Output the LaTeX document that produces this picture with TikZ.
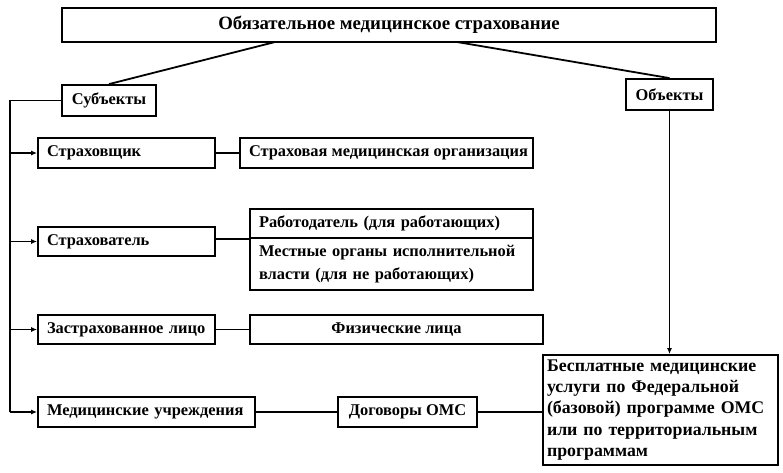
\documentclass[tikz,border=0pt]{standalone}
\usepackage{fontspec}
\setmainfont{Liberation Serif}
\usetikzlibrary{arrows.meta}
\begin{document}
\begin{tikzpicture}[x=1pt,y=-1pt,
  main node/.style={rectangle,draw,line width=1.8pt,inner sep=0pt,
    font=\fontsize{16.4}{21}\selectfont\bfseries},
  left node/.style={main node,align=left,inner xsep=9pt,anchor=center},
  link/.style={line width=1.8pt},
  bus arrow/.style={line width=1.8pt,-{Latex[length=6pt,width=5pt]}}]%
  \useasboundingbox (0,0) rectangle (783,472);
  % top level
  \node[main node,minimum width=654pt,minimum height=34pt,font=\fontsize{18.8}{21}\selectfont\bfseries] (oms) at (389,25) {Обязательное медицинское страхование};
  \node[main node,minimum width=94pt,minimum height=31pt] (subj) at (109,100.5) {Субъекты};
  \node[main node,minimum width=87pt,minimum height=31pt] (obj) at (669.5,94.5) {Объекты};
  \coordinate (t1) at (275,42);
  \coordinate (t2) at (457,42);
  \draw[link] (t1) -- (subj.north);
  \draw[link] (t2) -- (obj.north);

  % subjects
  \node[left node,text width=159pt,minimum height=30pt] (insurer) at (126.5,153) {Страховщик};
  \node[main node,minimum width=293pt,minimum height=30pt] (smo) at (386.5,153) {\hspace{4pt}Страховая медицинская организация};
  \node[left node,text width=159pt,minimum height=29pt] (holder) at (126.5,241.5) {Страхователь};
  \node[left node,text width=265pt,minimum height=29pt] (employer) at (391.5,223.5) {Работодатель (для работающих)};
  \node[left node,text width=265pt,minimum height=52pt,font=\fontsize{16.4}{23}\selectfont\bfseries] (local) at (391.5,264) {Местные органы исполнительной\\власти (для не работающих)};
  \node[left node,text width=159pt,minimum height=29pt] (insured) at (126.5,329.5) {Застрахованное лицо};
  \node[main node,minimum width=293pt,minimum height=29pt] (persons) at (396.5,329.5) {Физические лица};
  \node[left node,text width=199pt,minimum height=30pt] (clinic) at (146.5,412) {Медицинские учреждения};
  \node[main node,minimum width=139pt,minimum height=30pt] (contract) at (407.5,412) {Договоры ОМС};

  % objects
  \node[left node,inner xsep=4pt,text width=227pt,minimum height=110pt,font=\fontsize{17.8}{21.2}\selectfont\bfseries] (free) at (660.5,410) {Бесплатные медицинские\\услуги по Федеральной\\(базовой) программе ОМС\\или по территориальным\\программам};

  \coordinate (bus) at (10,100.5);
  \draw[link] (subj.west) -- (bus) -- (bus |- clinic.west);
  \foreach \n in {insurer,holder,insured,clinic}
    \draw[bus arrow] (bus |- \n.west) -- (\n.west);
  \draw[link] (insurer.east) -- (smo.west);
  \draw[link] (holder.east |- employer.south west) -- (employer.south west);
  \draw[link] (insured.east) -- (persons.west);
  \draw[link] (clinic.east) -- (contract.west);
  \draw[link] (contract.east) -- (contract.east -| free.west);
  \draw[bus arrow] (obj.south) -- (obj.south |- free.north);
\end{tikzpicture}
\end{document}
